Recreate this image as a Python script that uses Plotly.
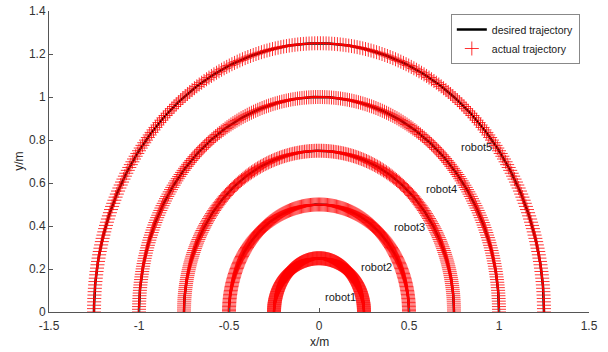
import numpy as np
import plotly.graph_objects as go

# data
radii = [0.25, 0.5, 0.75, 1.0, 1.25]
n_samples = 250
robot_labels = ["robot1", "robot2", "robot3", "robot4", "robot5"]
label_x = [0.02, 0.22, 0.405, 0.585, 0.775]
label_y = [0.07, 0.21, 0.395, 0.572, 0.767]
x_ticks = [-1.5, -1, -0.5, 0, 0.5, 1, 1.5]
x_ticklabels = ["-1.5", "-1", "-0.5", "0", "0.5", "1", "1.5"]
y_ticks = [0, 0.2, 0.4, 0.6, 0.8, 1, 1.2, 1.4]
y_ticklabels = ["0", "0.2", "0.4", "0.6", "0.8", "1", "1.2", "1.4"]

theta = np.linspace(0, np.pi, n_samples)

fig = go.Figure()

# desired trajectories (black lines)
for i, r in enumerate(radii):
    fig.add_trace(go.Scatter(
        x=r * np.cos(theta), y=r * np.sin(theta), mode="lines",
        line=dict(color="black", width=2.5),
        name="desired trajectory", showlegend=(i == 0), legendrank=1))

# actual trajectories (red + markers)
for i, r in enumerate(radii):
    fig.add_trace(go.Scatter(
        x=r * np.cos(theta), y=r * np.sin(theta), mode="markers",
        marker=dict(symbol="cross-thin", size=10, color="red",
                    line=dict(color="rgba(255,0,0,0.8)", width=1)),
        name="actual trajectory", showlegend=(i == 0), legendrank=2))

for t, lx, ly in zip(robot_labels, label_x, label_y):
    fig.add_annotation(x=lx, y=ly, text=t, showarrow=False, xanchor="left",
                       yanchor="middle", font=dict(size=11, color="#1a1a1a"))

fig.add_annotation(x=0.5, y=-0.1, xref="paper", yref="paper", text="x/m",
                   showarrow=False, yanchor="middle",
                   font=dict(size=12, color="#262626"))
fig.add_annotation(x=-0.057, y=0.5, xref="paper", yref="paper", text="y/m",
                   showarrow=False, textangle=-90, xanchor="center",
                   font=dict(size=12, color="#262626"))

axis_common = dict(showgrid=False, zeroline=False, showline=True,
                   linecolor="#555555", linewidth=1, ticks="inside",
                   ticklen=4, tickcolor="#555555", automargin=False,
                   tickfont=dict(size=12, color="#333333"))

fig.update_xaxes(range=[-1.5, 1.5], tickvals=x_ticks, ticktext=x_ticklabels,
                 ticklabelstandoff=3, **axis_common)
fig.update_yaxes(range=[0, 1.4], tickvals=y_ticks, ticktext=y_ticklabels,
                 **axis_common)

fig.update_layout(
    width=608, height=352,
    margin=dict(l=49, r=19, t=11, b=40),
    paper_bgcolor="white", plot_bgcolor="white",
    font=dict(family="Liberation Sans, Arial, sans-serif"),
    showlegend=True,
    legend=dict(x=0.983, y=0.99, xanchor="right", yanchor="top",
                bordercolor="#888888", borderwidth=1, bgcolor="white",
                font=dict(size=10.5, color="#1a1a1a"),
                tracegroupgap=0, itemwidth=30),
)

fig.write_html("out.html")
